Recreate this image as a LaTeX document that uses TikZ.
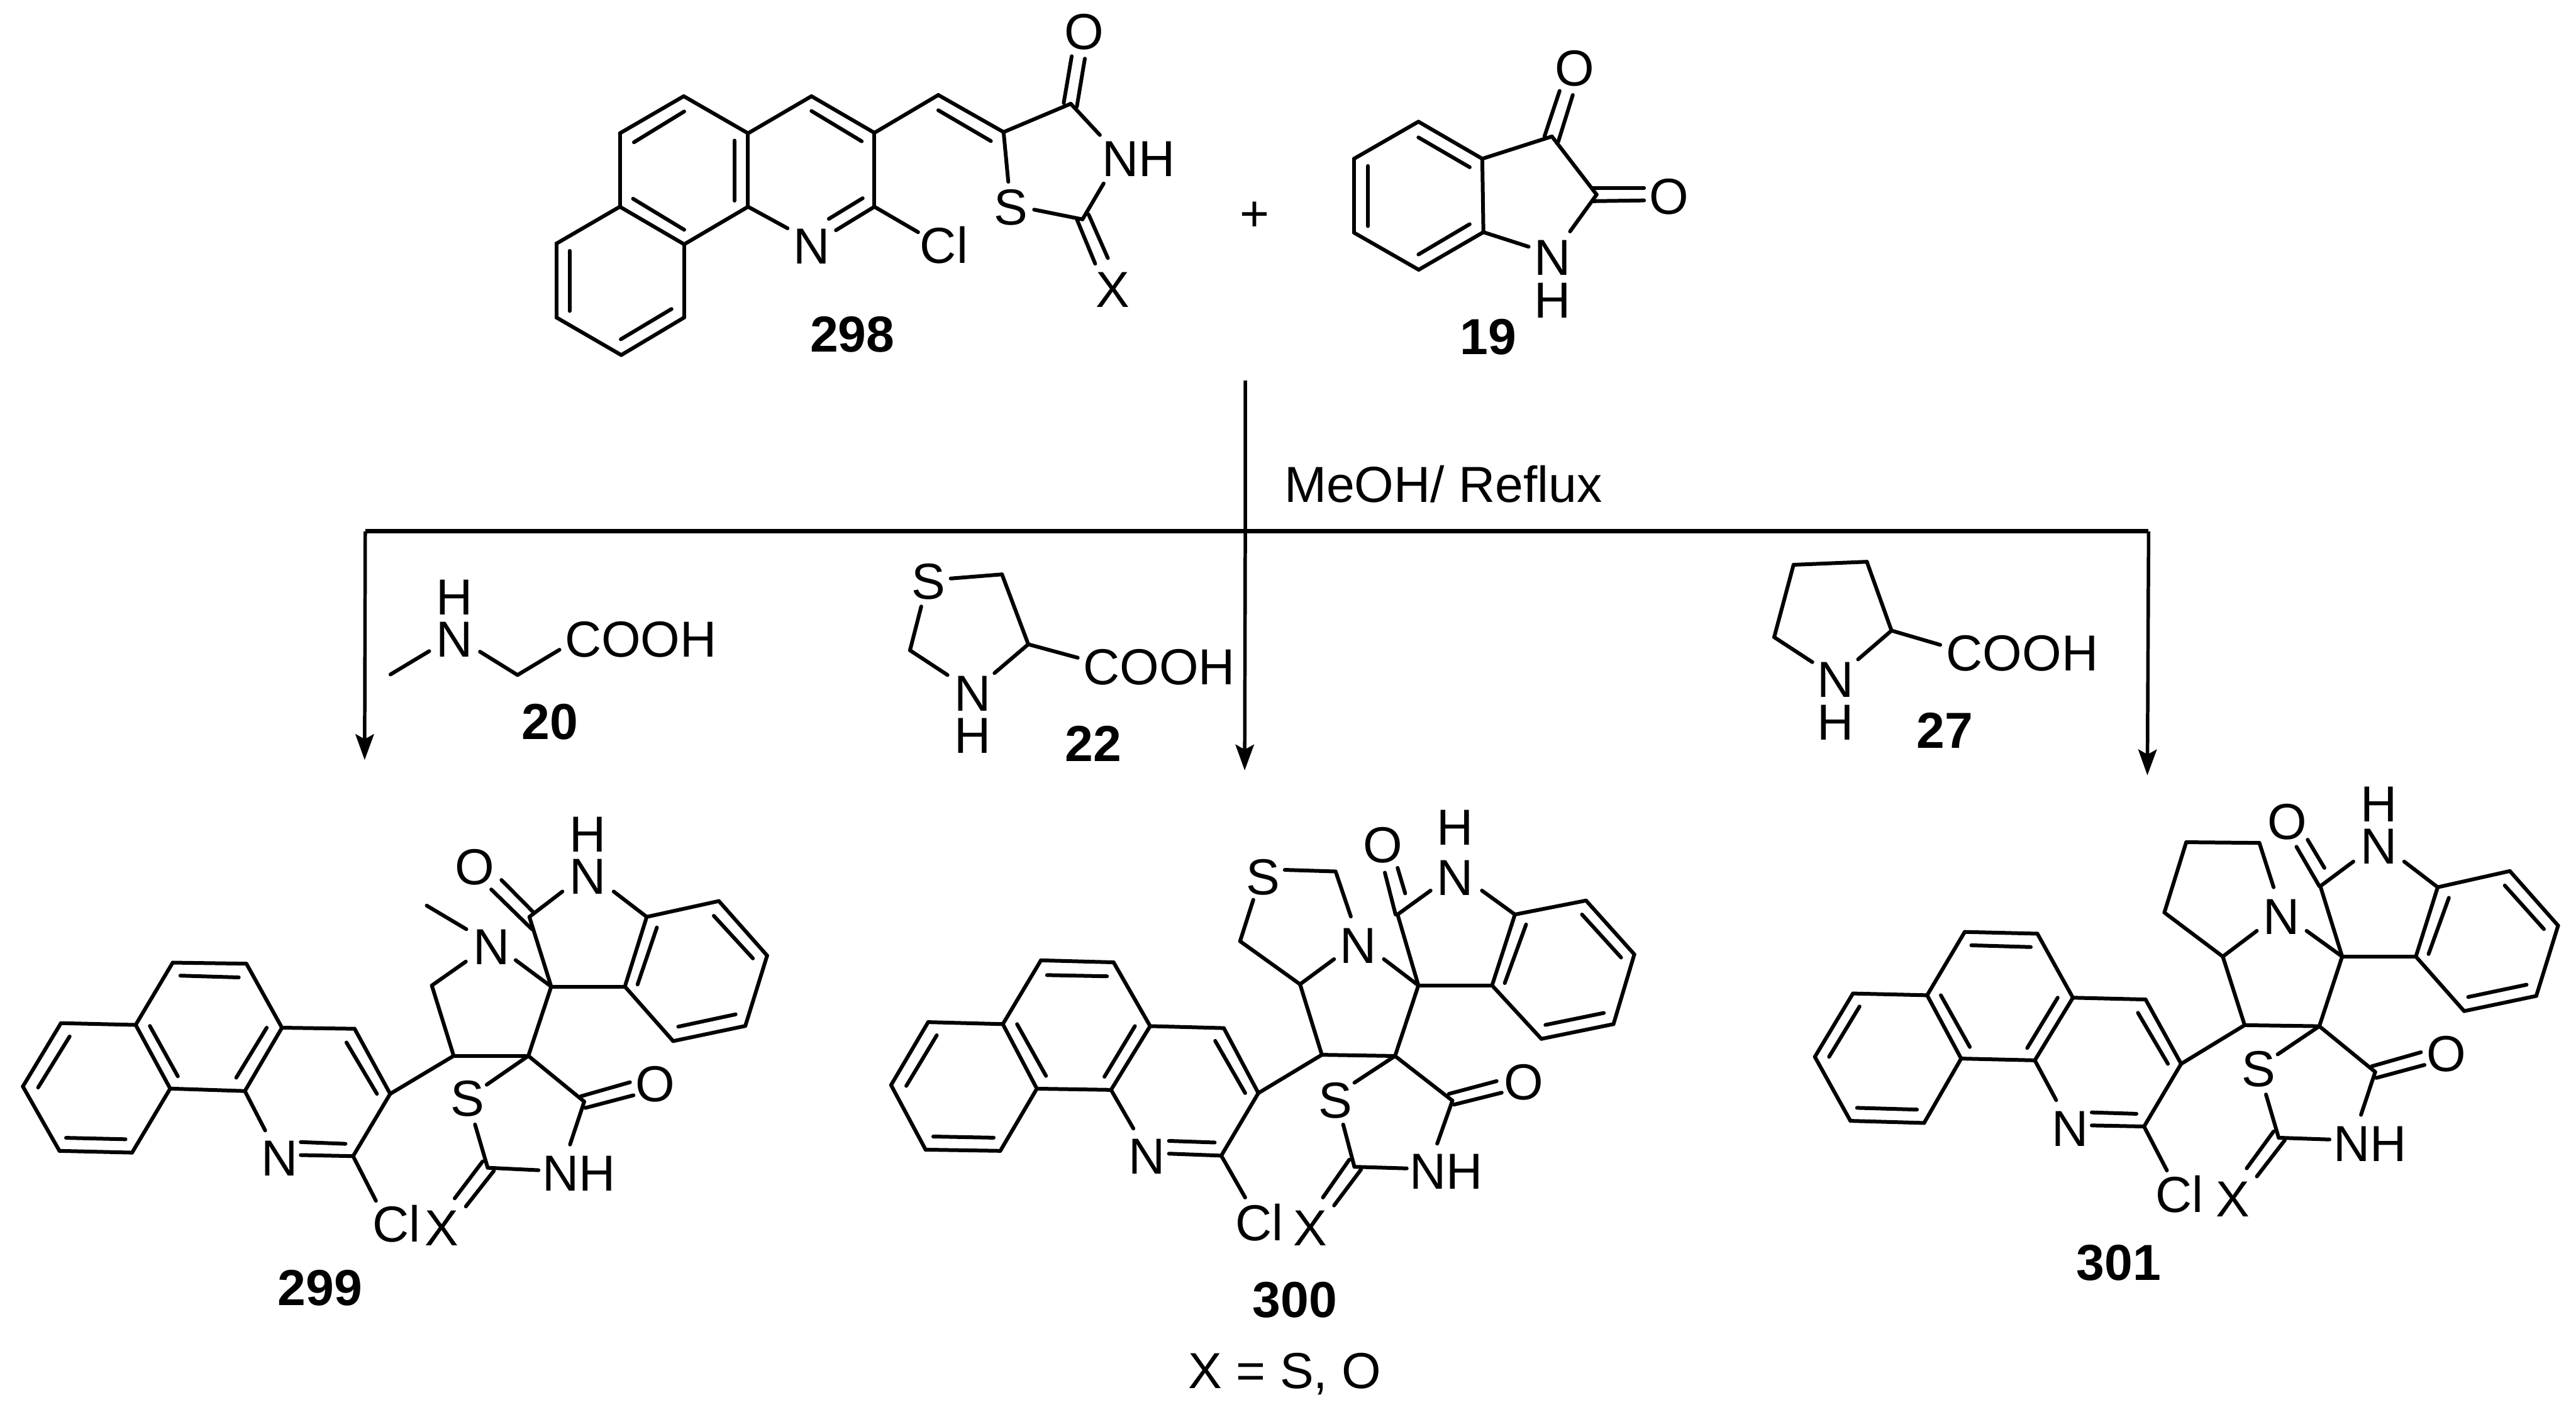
\documentclass[tikz,border=0pt]{standalone}
\usepackage{fontspec}
\setmainfont{Liberation Sans}
\usetikzlibrary{arrows.meta}
\newcommand\atoms[2]{\foreach \nm/\px/\py in {#2} \coordinate (#1\nm) at (\px,\py);}
\newcommand\bonds[2]{\foreach \pa/\pb in {#2} \draw[bond] (#1\pa) -- (#1\pb);}
\newcommand\corebonds[1]{\bonds{#1}{l1/l2,l2/l3,l3/l4,l4/l5,l5/l6,l6/l1,li1/li2,li3/li4,li5/li6,
 l3/m1,m1/m2,m2/m3,m3/m4,m4/l4,mi1/mi2,mi3/mi4,m3/r1,r1/r2,r2/r3,ri1/ri2,
 r3/nb1,nb2/nb3,m4/nb4,r3/cl1,r2/c1,c1/s1,s1/s2,s2/k1,k1/k2,k3/b1,s2/b6,
 b1/b2,b2/b3,b3/b4,b4/b5,b5/b6,b6/b1,bi1/bi2,bi3/bi4,bi5/bi6,o1/o2,o3/o4,
 s1/t1,t2/t3,t3/t4,t5/t6,s1/t6,u1/u2,u3/u4,v1/v2,v3/v4,p3/s2}}
\tikzset{
 bond/.style={line width=1.75pt,line cap=round,line join=round},
 flow/.style={line width=1.6pt},
 bar/.style={line width=2pt},
 flowtip/.style={flow,-{Stealth[length=0.42cm,width=0.3cm,inset=0.08cm]}},
 atom/.style={font=\fontsize{23.5}{23.5}\selectfont,inner sep=0pt,text height=16.8pt,text depth=0pt},
 cpd/.style={font=\fontsize{23.5}{23.5}\selectfont\bfseries,inner sep=0pt,text height=16.8pt,text depth=0pt},
}
\begin{document}
\begin{tikzpicture}
\path[fill=white] (0,0) rectangle (42.01cm,-23.02cm);
\useasboundingbox (0,0) rectangle (42.01cm,-23.02cm);

% reaction arrows
\begin{scope}[x=0.01cm,y=-0.01cm]
\coordinate (top) at (2032,621);
\coordinate (mid) at (2032,867);
\coordinate (midtip) at (2031,1257);
\coordinate (lft) at (596,867);
\coordinate (lfttip) at (595,1240);
\coordinate (rgt) at (3506,867);
\coordinate (rgttip) at (3504,1265);
\draw[bar] (lft) -- (rgt);
\draw[flowtip] (top) -- (mid) -- (midtip);
\draw[flowtip] (lft) -- (lfttip);
\draw[flowtip] (rgt) -- (rgttip);
\node[atom] (cond) at (2355,790) {MeOH/ Reflux};
\node[atom] (plus) at (2047,348) {+};
\end{scope}

% 298
\begin{scope}[shift={(8.5cm,0cm)},x=0.007653cm,y=-0.003954cm]
\atoms{A}{a/75/1005,b/75/1310,c/213/1465,d/347/1310,e/347/1008,f/210/853,g/210/550,h/346/397,i/483/550,j/483/853,k/618/397,l/752/548,m/752/853,n/888/392,o/1027/545,p/1170/428,q/1195/905,
 d1/103/1035,d2/103/1283,d3/212/1400,d4/320/1275,d5/347/948,d6/238/820,d7/240/587,d8/347/460,d9/454/580,d10/454/828,d11/618/458,d12/725/583,
 d13/670/950,d14/727/818,d15/655/903,d16/888/455,d17/1000/582,
 g1/567/942,g2/845/958,g3/1037/750,g4/1092/865,g5/1232/557,g6/1240/757,
 c1/1155/425,c2/1172/232,c3/1183/440,c4/1200/242,x1/1183/905,x2/1222/1088,x3/1208/885,x4/1249/1065}
\bonds{A}{a/b,b/c,c/d,d/e,e/f,f/a,f/g,g/h,h/i,i/j,j/e,i/k,k/l,l/m,l/n,n/o,o/p,d1/d2,d3/d4,d5/d6,d7/d8,d9/d10,d11/d12,m/d13,d14/d15,d16/d17,j/g1,m/g2,o/g3,g4/q,p/g5,g6/q,c1/c2,c3/c4,x1/x2,x3/x4}
\node[atom] (Ao) at (1198,130) {O};
\node[atom] (Anh) at (1315,652) {NH};
\node[atom] (As) at (1042,853) {S};
\node[atom] (Ax) at (1260,1193) {X};
\node[atom] (An) at (618,1015) {N};
\node[atom] (Acl) at (900,1012) {Cl};
\node[cpd] (Alab) at (705,1378) {298};
\end{scope}

% 19
\begin{scope}[shift={(21.5cm,0cm)},x=0.004464cm,y=-0.003954cm]
\atoms{I}{a/130/655,b/130/960,c/366/1113,d/602/958,e/598/655,f/365/502,i1/181/685,i2/181/933,i3/365/1050,i4/552/925,i5/365/567,i6/552/690,g/852/563,h/1015/803,j/918/955,k/767/1018,
 c1/825/562,c2/880/375,c3/875/585,c4/928/392,c5/1000/775,c6/1188/775,c7/1000/830,c8/1188/827}
\bonds{I}{a/b,b/c,c/d,d/e,e/f,f/a,i1/i2,i3/i4,i5/i6,e/g,g/h,h/j,d/k,c1/c2,c3/c4,c5/c6,c7/c8}
\node[atom] (Io1) at (935,280) {O};
\node[atom] (Io2) at (1280,810) {O};
\node[atom] (In) at (855,1060) {N};
\node[atom] (Ih) at (855,1237) {H};
\node[cpd] (Ilab) at (620,1388) {19};
\end{scope}

% 20 and 22
\begin{scope}[shift={(5.5cm,-6cm)},x=0.010204cm,y=-0.004464cm]
\atoms{G}{a/85/1118,b/147/1033,c/228/1035,d/288/1120,e/355/1028}
\bonds{G}{a/b,c/d,d/e}
\node[atom] (Gn) at (187,988) {N};
\node[atom] (Gh) at (187,835) {H};
\node[atom] (Gcooh) at (485,988) {COOH};
\node[cpd] (Glab) at (340,1288) {20};
\atoms{T}{a/980/768,b/1062/753,c/1104/1008,d/1050/1113,e/975/1120,f/915/1030,g/933/870,h/1183/1057}
\bonds{T}{a/b,b/c,c/d,e/f,f/g,c/h}
\node[atom] (Ts) at (945,778) {S};
\node[atom] (Tn) at (1015,1185) {N};
\node[atom] (Th) at (1015,1340) {H};
\node[atom] (Tcooh) at (1313,1088) {COOH};
\node[cpd] (Tlab) at (1208,1368) {22};
\end{scope}

% 27
\begin{scope}[shift={(21.5cm,-6cm)},x=0.009566cm,y=-0.004464cm]
\atoms{P}{a/810/718,b/935/707,c/977/958,d/920/1063,e/842/1073,f/777/982,g/1060/1010}
\bonds{P}{a/b,b/c,c/d,e/f,f/a,c/g}
\node[atom] (Pn) at (882,1135) {N};
\node[atom] (Ph) at (882,1292) {H};
\node[atom] (Pcooh) at (1200,1038) {COOH};
\node[cpd] (Plab) at (1068,1320) {27};
\end{scope}

% 299
\begin{scope}[shift={(0cm,-12.8cm)},x=0.008291cm,y=-0.00574cm]
\atoms{B}{l1/45/857,l2/120/677,l3/267/682,l4/335/863,l5/260/1045,l6/117/1040,li1/75/860,li2/137/715,li3/130/1003,li4/247/1007,li5/295/685,li6/350/828,
 m1/340/505,m2/485/508,m3/555/690,m4/482/870,mi1/355/542,mi2/470/547,mi3/525/690,mi4/465/832,
 r1/698/693,r2/768/878,r3/695/1055,ri1/682/732,ri2/742/878,nb1/592/1052,nb2/680/1020,nb3/592/1015,nb4/522/982,cl1/740/1182,
 c1/893/770,s1/1040/770,s2/1085/573,k1/1042/375,k2/1107/303,k3/1208/303,
 b1/1273/375,b2/1415/330,b3/1510/485,b4/1467/685,b5/1325/728,b6/1230/573,bi1/1255/567,bi2/1293/405,bi3/1405/372,bi4/1482/493,bi5/1448/652,bi6/1335/687,
 o1/1050/362,o2/987/270,o3/1047/410,o4/967/297,
 t1/958/852,t2/935/965,t3/960/1088,t4/1060/1095,t5/1122/1022,t6/1150/900,u1/1143/885,u2/1240/845,u3/1152/918,u4/1247/882,v1/950/1070,v2/895/1175,v3/972/1097,v4/917/1198,
 p1/850/570,p2/917/502,p3/1015/498,me1/840/343,me2/918/410}
\corebonds{B}
\bonds{B}{c1/p1,p1/p2,me1/me2}
\node[atom] (Bn1) at (550,1060) {N};
\node[atom] (Bcl) at (780,1248) {Cl};
\node[atom] (Bx) at (870,1258) {X};
\node[atom] (Bs) at (920,890) {S};
\node[atom] (Bnh) at (1140,1102) {NH};
\node[atom] (Bo1) at (1290,848) {O};
\node[atom] (Bn2) at (967,458) {N};
\node[atom] (Bo2) at (935,232) {O};
\node[atom] (Bn3) at (1157,258) {N};
\node[atom] (Bh) at (1157,138) {H};
\node[cpd] (Blab) at (630,1428) {299};
\end{scope}

% 300
\begin{scope}[shift={(14.2cm,-12.8cm)},x=0.008291cm,y=-0.006505cm]
\atoms{C}{l1/40/753,l2/113/595,l3/260/600,l4/327/762,l5/255/918,l6/108/915,li1/70/755,li2/130/628,li3/123/882,li4/242/885,li5/288/600,li6/345/730,
 m1/335/440,m2/478/445,m3/550/605,m4/473/765,mi1/347/477,mi2/465/480,mi3/520/605,mi4/460/732,
 r1/695/610,r2/763/773,r3/690/930,ri1/678/642,ri2/737/773,nb1/587/925,nb2/677/897,nb3/587/893,nb4/517/862,cl1/737/1035,
 c1/888/677,s1/1032/680,s2/1078/503,k1/1037/325,k2/1102/265,k3/1203/265,
 b1/1268/325,b2/1408/290,b3/1503/425,b4/1462/600,b5/1320/637,b6/1223/503,bi1/1248/497,bi2/1290/350,bi3/1400/325,bi4/1477/433,bi5/1443/572,bi6/1328/602,
 o1/1033/325,o2/1012/220,o3/1052/272,o4/1037/208,
 t1/952/747,t2/930/852,t3/952/958,t4/1055/962,t5/1115/900,t6/1145/792,u1/1138/775,u2/1232/743,u3/1148/802,u4/1242/772,v1/942/940,v2/890/1035,v3/965/965,v4/912/1055,
 p0/845/500,p2/912/437,p3/1010/437,q1/727/392,q2/753/288,q3/815/213,q4/915/217,q5/945/330}
\corebonds{C}
\bonds{C}{c1/p0,p0/p2,p0/q1,q1/q2,q3/q4,q4/q5}
\node[atom] (Cn1) at (543,930) {N};
\node[atom] (Ccl) at (765,1098) {Cl};
\node[atom] (Cx) at (865,1110) {X};
\node[atom] (Cs1) at (915,790) {S};
\node[atom] (Cnh) at (1133,968) {NH};
\node[atom] (Co1) at (1285,745) {O};
\node[atom] (Cn2) at (960,402) {N};
\node[atom] (Cs2) at (772,230) {S};
\node[atom] (Co2) at (1008,150) {O};
\node[atom] (Cn3) at (1150,232) {N};
\node[atom] (Ch) at (1150,105) {H};
\node[cpd] (Clab) at (835,1290) {300};
\node[atom] (Cnote) at (815,1468) {X = S, O};
\end{scope}

% 301
\begin{scope}[shift={(29cm,-12.5cm)},x=0.008291cm,y=-0.00574cm]
\atoms{D}{l1/72/825,l2/147/645,l3/293/650,l4/360/830,l5/287/1013,l6/142/1007,li1/100/825,li2/160/682,li3/155/970,li4/273/975,li5/320/650,li6/377/797,
 m1/367/470,m2/510/475,m3/580/657,m4/505/835,mi1/380/508,mi2/497/513,mi3/550/657,mi4/490/800,
 r1/723/662,r2/793/845,r3/720/1023,ri1/708/700,ri2/767/845,nb1/617/1020,nb2/705/987,nb3/617/983,nb4/547/948,cl1/765/1148,
 c1/918/735,s1/1065/738,s2/1110/540,k1/1067/340,k2/1132/270,k3/1232/270,
 b1/1298/343,b2/1440/297,b3/1535/452,b4/1492/652,b5/1350/695,b6/1255/540,bi1/1280/533,bi2/1320/373,bi3/1430/338,bi4/1507/462,bi5/1473/620,bi6/1358/655,
 o1/1065/340,o2/1020/228,o3/1075/288,o4/1042/208,
 t1/983/818,t2/960/932,t3/985/1055,t4/1085/1060,t5/1147/990,t6/1175/868,u1/1168/852,u2/1265/812,u3/1177/885,u4/1272/848,v1/975/1037,v2/922/1142,v3/997/1062,v4/942/1165,
 p0/875/540,p2/942/467,p3/1040/467,q1/760/415,q2/803/215,q3/947/217,q4/975/343}
\corebonds{D}
\bonds{D}{c1/p0,p0/p2,p0/q1,q1/q2,q2/q3,q3/q4}
\node[atom] (Dn1) at (575,1027) {N};
\node[atom] (Dcl) at (790,1215) {Cl};
\node[atom] (Dx) at (895,1228) {X};
\node[atom] (Ds) at (945,858) {S};
\node[atom] (Dnh) at (1165,1070) {NH};
\node[atom] (Do1) at (1315,815) {O};
\node[atom] (Dn2) at (990,425) {N};
\node[atom] (Do2) at (1002,155) {O};
\node[atom] (Dn3) at (1182,225) {N};
\node[atom] (Dh) at (1182,105) {H};
\node[cpd] (Dlab) at (670,1408) {301};
\end{scope}
\end{tikzpicture}
\end{document}
